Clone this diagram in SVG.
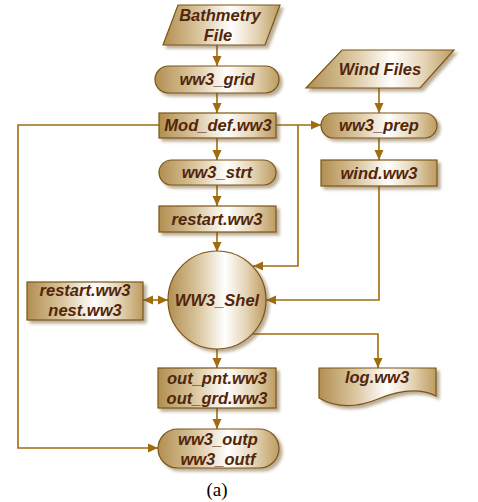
<svg xmlns="http://www.w3.org/2000/svg" width="478" height="502" viewBox="0 0 478 502">
  <defs>
    <linearGradient id="fillGold" x1="0" y1="0" x2="1" y2="0">
      <stop offset="0" stop-color="#b28f52"/>
      <stop offset="0.3" stop-color="#d9c49c"/>
      <stop offset="0.58" stop-color="#ffffff"/>
      <stop offset="0.8" stop-color="#e4d3b4"/>
      <stop offset="1" stop-color="#bc9c60"/>
    </linearGradient>
    <filter id="shadow" x="-20%" y="-20%" width="150%" height="160%">
      <feDropShadow dx="3" dy="3" stdDeviation="1.8" flood-color="#6b4a1a" flood-opacity="0.45"/>
    </filter>
    <marker id="arrow" viewBox="0 0 10 10" refX="10" refY="5" markerWidth="10" markerHeight="10" markerUnits="userSpaceOnUse" orient="auto-start-reverse">
      <path d="M0,0.5 L10,5 L0,9.5 Z" fill="#a06c10"/>
    </marker>
    <style>
      .node { fill: url(#fillGold); stroke: #7a5518; stroke-width: 1.2; filter: url(#shadow); }
      .lbl { font-family: "Liberation Sans", Arial, sans-serif; font-weight: bold; font-style: italic; font-size: 16.5px; fill: #52260a; text-anchor: middle; }
      .conn path { fill: none; stroke: #a06c10; stroke-width: 1.6; }
      .cap { font-family: "Liberation Serif", "Times New Roman", serif; font-size: 19px; fill: #000; text-anchor: middle; }
    </style>
  </defs>

  <rect width="478" height="502" fill="#ffffff"/>

  <!-- connectors -->
  <g class="conn">
    <path d="M217,45 V66" marker-end="url(#arrow)"/>
    <path d="M217,93 V113" marker-end="url(#arrow)"/>
    <path d="M217,138 V160" marker-end="url(#arrow)"/>
    <path d="M217,185 V206" marker-end="url(#arrow)"/>
    <path d="M217,232 V252" marker-end="url(#arrow)"/>
    <path d="M217,348 V368" marker-end="url(#arrow)"/>
    <path d="M217,408 V429" marker-end="url(#arrow)"/>
    <path d="M276,125 H321" marker-end="url(#arrow)"/>
    <path d="M298,125 V266 H253" marker-end="url(#arrow)"/>
    <path d="M379,88 V113" marker-end="url(#arrow)"/>
    <path d="M379,138 V160" marker-end="url(#arrow)"/>
    <path d="M379,186 V300 H266" marker-end="url(#arrow)"/>
    <path d="M252,334 H378 V368" marker-end="url(#arrow)"/>
    <path d="M143,300 H168" marker-start="url(#arrow)" marker-end="url(#arrow)"/>
    <path d="M159,125 H18 V448 H158" marker-end="url(#arrow)"/>
  </g>

  <!-- nodes -->
  <g id="bathymetry">
    <path class="node" d="M178,5 H280 L265,45 H163 Z"/>
    <text class="lbl" x="220" y="21">Bathmetry</text>
    <text class="lbl" x="218" y="41">File</text>
  </g>
  <g id="ww3_grid">
    <rect class="node" x="155" y="66" width="124" height="27" rx="13.5"/>
    <text class="lbl" x="217" y="85">ww3_grid</text>
  </g>
  <g id="mod_def">
    <rect class="node" x="159" y="113" width="117" height="25"/>
    <text class="lbl" x="218" y="131">Mod_def.ww3</text>
  </g>
  <g id="ww3_strt">
    <rect class="node" x="159" y="160" width="117" height="25" rx="12.5"/>
    <text class="lbl" x="217" y="178">ww3_strt</text>
  </g>
  <g id="restart_top">
    <rect class="node" x="159" y="206" width="117" height="26"/>
    <text class="lbl" x="217" y="225">restart.ww3</text>
  </g>
  <g id="wind_files">
    <path class="node" d="M342,50 H454 L420,88 H306 Z"/>
    <text class="lbl" x="380" y="75">Wind Files</text>
  </g>
  <g id="ww3_prep">
    <rect class="node" x="321" y="113" width="116" height="25" rx="12.5"/>
    <text class="lbl" x="379" y="131">ww3_prep</text>
  </g>
  <g id="wind_ww3">
    <rect class="node" x="321" y="160" width="116" height="26"/>
    <text class="lbl" x="379" y="179">wind.ww3</text>
  </g>
  <g id="ww3_shel">
    <circle class="node" cx="217" cy="300" r="49"/>
    <text class="lbl" x="217" y="306">WW3_Shel</text>
  </g>
  <g id="restart_nest">
    <rect class="node" x="27" y="282" width="116" height="38"/>
    <text class="lbl" x="85" y="296">restart.ww3</text>
    <text class="lbl" x="85" y="316">nest.ww3</text>
  </g>
  <g id="log_ww3">
    <path class="node" d="M319,368 H436 V396 C420,388 400,390 378,399 C356,408 336,408 319,398 Z"/>
    <text class="lbl" x="377" y="383">log.ww3</text>
  </g>
  <g id="out_files">
    <rect class="node" x="158" y="368" width="118" height="40"/>
    <text class="lbl" x="217" y="384">out_pnt.ww3</text>
    <text class="lbl" x="217" y="404">out_grd.ww3</text>
  </g>
  <g id="ww3_outp">
    <rect class="node" x="158" y="429" width="121" height="39" rx="19.5"/>
    <text class="lbl" x="218" y="445">ww3_outp</text>
    <text class="lbl" x="218" y="465">ww3_outf</text>
  </g>

  <text class="cap" x="217" y="496">(a)</text>
</svg>
